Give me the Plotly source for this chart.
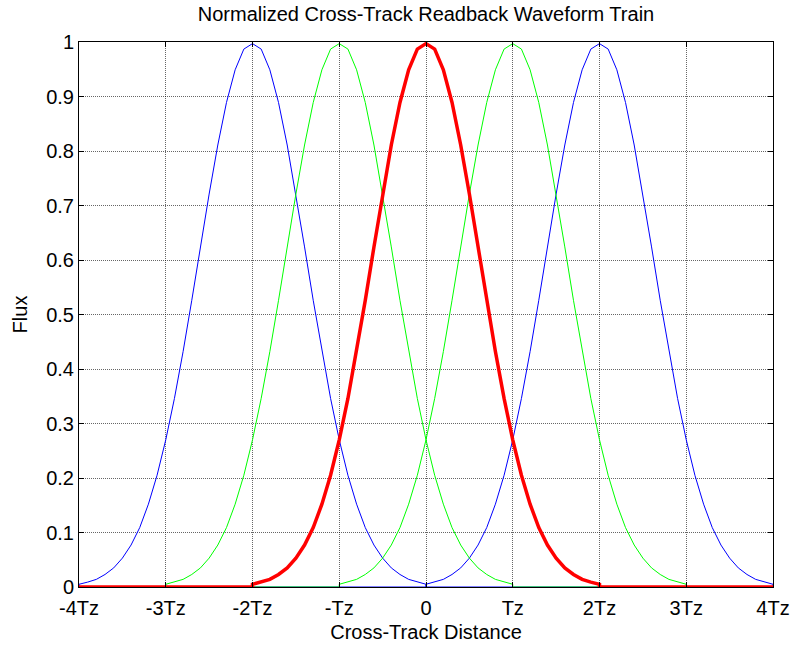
import plotly.graph_objects as go

# Pulse centres, in units of the track pitch Tz
centers = [-2, -1, 0, 1, 2]
colors = ["#0000FF", "#00FF00", "#FF0000", "#00FF00", "#0000FF"]
widths = [1, 1, 3.5, 1, 1]

# Normalised cross-track flux profile of one pulse, sampled every 0.1 Tz over [-2Tz, 2Tz]
profile_offsets = [-2.0, -1.9, -1.8, -1.7, -1.6, -1.5, -1.4, -1.3, -1.2, -1.1,
                   -1.0, -0.9, -0.8, -0.7, -0.6, -0.5, -0.4, -0.3, -0.2, -0.1,
                   0.0, 0.1, 0.2, 0.3, 0.4, 0.5, 0.6, 0.7, 0.8, 0.9,
                   1.0, 1.1, 1.2, 1.3, 1.4, 1.5, 1.6, 1.7, 1.8, 1.9, 2.0]
profile_flux = [0.005, 0.009, 0.014, 0.023, 0.035, 0.053, 0.077, 0.109, 0.152, 0.205,
                0.270, 0.346, 0.432, 0.526, 0.624, 0.721, 0.811, 0.889, 0.949, 0.987,
                0.997, 0.987, 0.949, 0.889, 0.811, 0.721, 0.624, 0.526, 0.432, 0.346,
                0.270, 0.205, 0.152, 0.109, 0.077, 0.053, 0.035, 0.023, 0.014, 0.009, 0.005]

x_range = [-4, 4]
x_tickvals = [-4, -3, -2, -1, 0, 1, 2, 3, 4]
x_ticktext = ["-4Tz", "-3Tz", "-2Tz", "-Tz", "0", "Tz", "2Tz", "3Tz", "4Tz"]
y_tickvals = [0, 0.1, 0.2, 0.3, 0.4, 0.5, 0.6, 0.7, 0.8, 0.9, 1]
y_ticktext = ["0", "0.1", "0.2", "0.3", "0.4", "0.5", "0.6", "0.7", "0.8", "0.9", "1"]

FONT = "Liberation Sans, Arial, Helvetica, sans-serif"

fig = go.Figure()

# draw blue pair, then green pair, then the red centre pulse on top
order = [0, 4, 1, 3, 2]
for i in order:
    c = centers[i]
    xs = [x_range[0], c + profile_offsets[0]]
    ys = [0, 0]
    xs += [c + d for d in profile_offsets]
    ys += list(profile_flux)
    xs += [c + profile_offsets[-1], x_range[1]]
    ys += [0, 0]
    fig.add_trace(go.Scatter(
        x=xs, y=ys, mode="lines",
        line=dict(color=colors[i], width=widths[i]),
        showlegend=False, hoverinfo="skip",
    ))

axis_common = dict(
    automargin=False,
    showline=True, linecolor="black", linewidth=1, mirror="ticks",
    ticks="inside", ticklen=5, tickwidth=1, tickcolor="black",
    showgrid=True, gridcolor="rgba(0,0,0,0.6)", gridwidth=1, griddash="1px,1px",
    zeroline=False,
    tickfont=dict(family=FONT, size=20, color="black"),
)

fig.update_layout(
    width=795, height=645,
    margin=dict(l=79, r=22, t=42, b=58),
    paper_bgcolor="white", plot_bgcolor="white",
    title=dict(text="Normalized Cross-Track Readback Waveform Train",
               font=dict(family=FONT, size=20, color="black"),
               x=0.5, xanchor="center", xref="paper",
               y=1 - 14 / 645, yanchor="middle", yref="container"),
    xaxis=dict(range=x_range, tickvals=x_tickvals, ticktext=x_ticktext,
               ticklabelstandoff=3,
               title=dict(text="Cross-Track Distance", standoff=6,
                          font=dict(family=FONT, size=20, color="black")),
               **axis_common),
    yaxis=dict(range=[0, 1], tickvals=y_tickvals, ticktext=y_ticktext,
               title=dict(text="Flux", standoff=13,
                          font=dict(family=FONT, size=20, color="black")),
               **axis_common),
)

fig.write_html("out.html")
